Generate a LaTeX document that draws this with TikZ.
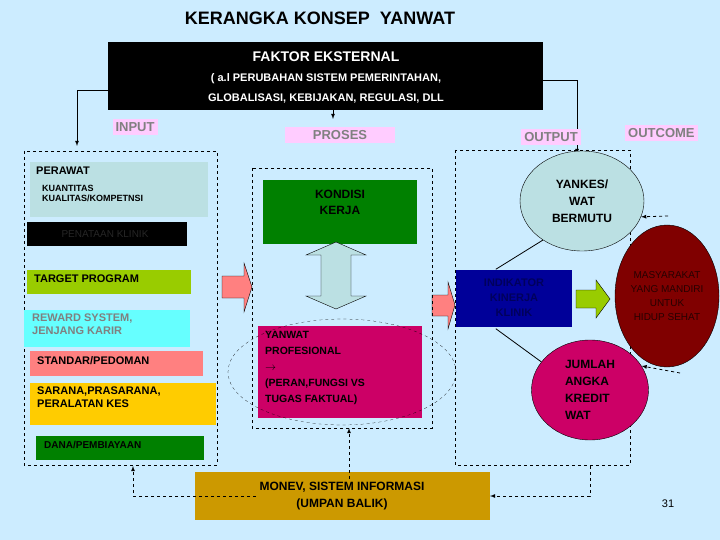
\documentclass[tikz,border=0pt]{standalone}
\usepackage{fontspec}
\setmainfont{Liberation Sans}
\usetikzlibrary{positioning,shapes.geometric}
\definecolor{bgblue}{RGB}{204,236,255}
\definecolor{labpink}{RGB}{255,204,255}
\definecolor{labgray}{RGB}{128,128,128}
\definecolor{perawatc}{RGB}{187,224,227}
\definecolor{targetc}{RGB}{153,204,0}
\definecolor{rewardc}{RGB}{102,255,255}
\definecolor{standarc}{RGB}{255,128,128}
\definecolor{saranac}{RGB}{255,204,0}
\definecolor{danac}{RGB}{0,128,0}
\definecolor{kondisic}{RGB}{0,128,0}
\definecolor{yanwatc}{RGB}{204,0,102}
\definecolor{indikc}{RGB}{0,0,153}
\definecolor{masyc}{RGB}{128,0,0}
\definecolor{monevc}{RGB}{204,153,0}
\definecolor{yankesc}{RGB}{187,224,227}
\tikzset{
  lab/.style={fill=labpink,text=labgray,font=\bfseries\fontsize{13}{13}\selectfont,inner sep=3pt},
  item/.style={anchor=north west,align=left,font=\bfseries\fontsize{11}{13}\selectfont,inner sep=4pt},
  frame/.style={draw,dashed,thin},
  blockarr/.style={draw,thin,fill=standarc},
  feed/.style={dashed,thick,-latex}
}
\begin{document}
\begin{tikzpicture}[x=1pt,y=-1pt]
\fill[bgblue] (0,0) rectangle (720,540);
\useasboundingbox (0,0) rectangle (720,540);

\node (judul) at (320,18) {\bfseries\fontsize{18}{18}\selectfont KERANGKA KONSEP\ \ YANWAT};

% faktor eksternal
\fill (108,42) rectangle (543,110);
\node[text=white,font=\bfseries\fontsize{14}{14}\selectfont] (eks) at (326,57) {FAKTOR EKSTERNAL};
\node[text=white,align=center,font=\bfseries\fontsize{11}{20}\selectfont] (eksket) at (326,88)
  {( a.l PERUBAHAN SISTEM PEMERINTAHAN,\\GLOBALISASI, KEBIJAKAN, REGULASI, DLL};
\coordinate (eksL) at (108,90);
\coordinate (eksR) at (543,80);
\coordinate (eksB) at (333,110);
\coordinate (inTop) at (77,146);
\coordinate (outTop) at (577,154);
\coordinate (proTop) at (333,119);
\draw[-latex,thick] (eksL) -| (inTop);
\draw[-latex,thick] (eksR) -| (outTop);
\draw[-latex,thick] (eksB) -- (proTop);

% label
\node[lab] (input) at (135,127) {INPUT};
\node[lab,minimum width=110pt] (proses) at (340,135) {PROSES};
\node[lab] (output) at (551,137) {OUTPUT};
\node[lab,anchor=west] (outcome) at (625,133) {OUTCOME};

% input
\draw[frame] (24,151) rectangle (217,465);
\fill[perawatc] (30,162) rectangle (208,217);
\node[item] (perawat) at (32,163) {PERAWAT};
\node[item,font=\bfseries\fontsize{9}{10}\selectfont] (kuantitas) at (38,181) {KUANTITAS\\KUALITAS/KOMPETNSI};
\fill (27,222) rectangle (187,246);
\node[text=black!85!white,font=\fontsize{10}{10}\selectfont] (penataan) at (105,234) {PENATAAN KLINIK};
\fill[targetc] (27,270) rectangle (191,294);
\node[item] (target) at (30,271) {TARGET PROGRAM};
\fill[rewardc] (24,310) rectangle (190,347);
\node[item,text=labgray] (reward) at (28,310) {REWARD SYSTEM,\\JENJANG KARIR};
\fill[standarc] (30,351) rectangle (203,376);
\node[item] (standar) at (33,352) {STANDAR/PEDOMAN};
\fill[saranac] (30,383) rectangle (216,425);
\node[item] (sarana) at (33,383) {SARANA,PRASARANA,\\PERALATAN KES};
\fill[danac] (36,436) rectangle (204,460);
\node[item,font=\bfseries\fontsize{10}{12}\selectfont] (dana) at (40,437) {DANA/PEMBIAYAAN};

% panah blok
\draw[blockarr] (222,276) -- (244,276) -- (244,263) -- (252,287) -- (244,312) -- (244,298) -- (222,298) -- cycle;
\draw[blockarr] (432,295) -- (448,295) -- (448,282) -- (455,305) -- (448,329) -- (448,316) -- (432,316) -- cycle;

% proses
\draw[frame] (252,168) rectangle (432,428);
\fill[kondisic] (263,180) rectangle (417,244);
\node[align=center,font=\bfseries\fontsize{12}{16}\selectfont] (kondisi) at (340,202) {KONDISI\\KERJA};
\draw[thin,fill=yankesc] (336,242) -- (366,255) -- (351,255) -- (351,296) -- (366,296) -- (336,309)
  -- (306,296) -- (321,296) -- (321,255) -- (306,255) -- cycle;
\fill[yanwatc] (258,326) rectangle (422,418);
\node[item,font=\bfseries\fontsize{10.5}{16}\selectfont] (yanwat) at (261,327)
  {YANWAT\\PROFESIONAL\\$\rightarrow$\\(PERAN,FUNGSI VS\\TUGAS FAKTUAL)};
\draw[dashed,very thin] (342,372) ellipse [x radius=114, y radius=53];

% output
\draw[frame] (455,150) rectangle (630,465);
\node[draw,thin,ellipse,fill=yankesc,minimum width=124pt,minimum height=100pt,align=center,
  font=\bfseries\fontsize{12}{17}\selectfont,inner sep=0pt] (yankes) at (582,201) {YANKES/\\WAT\\BERMUTU};
\node[fill=indikc,minimum width=116pt,minimum height=57pt,align=center,text=indikc!60!black,
  font=\bfseries\fontsize{11}{15}\selectfont] (indikator) at (514,298) {INDIKATOR\\KINERJA\\KLINIK};
\draw[thin,fill=targetc] (576,290) -- (596,290) -- (596,280) -- (610,299) -- (596,318) -- (596,308) -- (576,308) -- cycle;
\node[draw,thin,ellipse,fill=masyc,minimum width=104pt,minimum height=142pt,align=center,text=black!70!masyc,
  font=\fontsize{10}{14}\selectfont,inner sep=0pt] (masy) at (667,296) {MASYARAKAT\\YANG MANDIRI\\UNTUK\\HIDUP SEHAT};
\node[draw,thin,ellipse,fill=yanwatc,minimum width=117pt,minimum height=100pt,align=left,
  font=\bfseries\fontsize{12}{17}\selectfont,inner sep=0pt] (jumlah) at (590,390) {JUMLAH\\ANGKA\\KREDIT\\WAT};
\draw[thick] (indikator.north west) ++(40,0) -- (yankes.225);
\draw[thick] (indikator.south west) ++(40,2) -- (jumlah.150);
\coordinate (masyA) at (668,216);
\coordinate (masyB) at (680,373);
\draw[feed] (masyA) -- (yankes.-15);
\draw[feed] (masyB) -- (jumlah.25);

% monev
\fill[monevc] (195,472) rectangle (490,520);
\node[align=center,font=\bfseries\fontsize{12}{17}\selectfont] (monev) at (342,496) {MONEV, SISTEM INFORMASI\\(UMPAN BALIK)};
\coordinate (inBot) at (133,466);
\coordinate (proBot) at (349,428);
\coordinate (outBot) at (590,466);
\coordinate (monevR) at (490,496);
\draw[feed] (monev.west) -| (inBot);
\draw[feed] (monev.north -| proBot) -- (proBot);
\draw[feed] (outBot) |- (monevR);

\node[font=\fontsize{11}{11}\selectfont] (hal) at (668,504) {31};
\end{tikzpicture}
\end{document}
